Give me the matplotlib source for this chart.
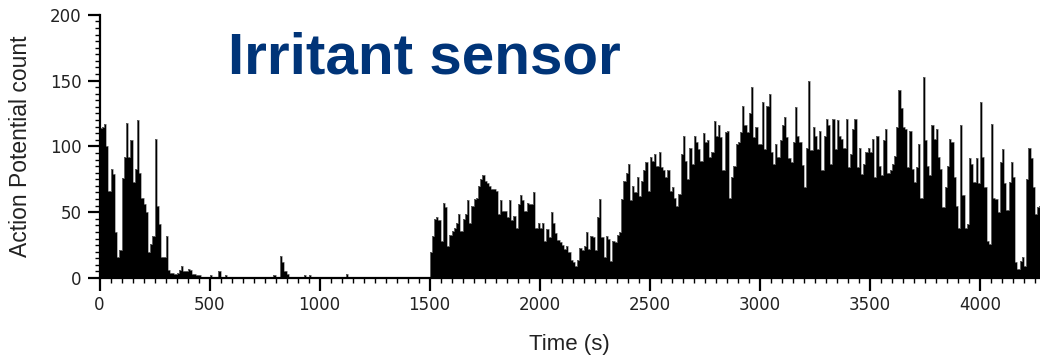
import numpy as np
import matplotlib.pyplot as plt
from matplotlib.ticker import MultipleLocator

# spike counts per 10 s bin
bin_width = 10
counts_0000 = [114, 115, 117, 100, 66, 83, 79, 35, 16, 21,
               76, 92, 118, 92, 105, 73, 83, 120, 80, 61,
               56, 50, 20, 26, 32, 106, 55, 41, 16, 16,
               32, 6, 4, 4, 3, 4, 6, 9, 5, 5,
               7, 6, 3, 3, 2, 2]
counts_0460 = [0, 1, 0, 0, 2, 0, 0, 1, 5, 1,
               0, 2, 1, 0, 0, 1, 0, 0, 0, 1,
               0, 1, 1, 0, 0, 1, 0, 0, 0, 0,
               0, 0, 0, 2, 1, 1, 17, 12, 5, 3,
               1, 1, 1, 1, 1, 0, 0, 2, 1, 2,
               0, 0, 0, 0, 1, 0, 0, 0, 1, 1,
               0, 0, 0, 0, 0, 0, 3, 0, 0, 0,
               0, 1, 0, 0, 0, 0, 0, 1, 0, 1,
               0, 0, 0, 0, 0, 0, 0, 0, 0, 1,
               0, 1, 0, 0, 0, 0, 1, 0, 0, 0,
               0, 0, 0, 0]
counts_1500 = [20, 32, 45, 46, 44, 28, 57, 54, 24, 33,
               36, 38, 42, 49, 36, 45, 49, 59, 42, 55,
               60, 61, 70, 75, 78, 74, 72, 70, 68, 68,
               66, 49, 59, 51, 51, 46, 59, 44, 47, 38,
               56, 63, 59, 51, 57, 56, 56, 65, 38, 42]
counts_2000 = [38, 42, 28, 37, 31, 50, 42, 34, 29, 27,
               25, 22, 24, 20, 14, 12, 9, 14, 23, 21,
               24, 35, 22, 32, 31, 21, 46, 60, 31, 16,
               32, 30, 13, 28, 27, 33, 35, 60, 74, 80,
               87, 59, 70, 65, 77, 62, 74, 82, 88, 66]
counts_2500 = [92, 89, 94, 85, 96, 84, 82, 77, 82, 66,
               69, 61, 55, 64, 94, 108, 89, 75, 99, 87,
               108, 103, 98, 89, 110, 103, 105, 92, 96, 119,
               108, 116, 107, 82, 111, 112, 61, 77, 85, 102,
               103, 111, 131, 116, 111, 125, 145, 107, 115, 102]
counts_3000 = [102, 134, 98, 131, 140, 96, 87, 102, 92, 105,
               116, 122, 107, 91, 88, 103, 130, 108, 103, 86,
               69, 99, 150, 97, 115, 108, 98, 112, 82, 108,
               121, 116, 87, 121, 98, 120, 108, 106, 99, 121,
               84, 94, 113, 121, 84, 99, 79, 87, 96, 99]
counts_3500 = [96, 106, 77, 108, 85, 78, 105, 113, 80, 82,
               87, 93, 115, 143, 129, 115, 113, 84, 112, 83,
               73, 84, 102, 61, 153, 105, 85, 78, 116, 106,
               113, 92, 83, 54, 69, 85, 106, 103, 77, 55,
               38, 116, 63, 38, 41, 91, 87, 73, 91, 72]
counts_4000 = [134, 92, 69, 28, 26, 117, 61, 60, 50, 88,
               98, 72, 52, 73, 88, 77, 12, 7, 13, 16,
               9, 75, 99, 91, 69, 49, 54, 55]

counts = np.array(counts_0000 + counts_0460 + counts_1500 + counts_2000
                  + counts_2500 + counts_3000 + counts_3500 + counts_4000)
edges = np.arange(len(counts) + 1) * bin_width

plt.rcParams['font.family'] = ['Liberation Sans', 'DejaVu Sans']

fig = plt.figure(figsize=(10.4, 3.59), dpi=100)
ax = fig.add_axes([0.0957, 0.2256, 0.9043, 0.7332])

# filled histogram + faint grey outline (the reference has soft edges on spikes)
ax.stairs(counts, edges, fill=True, color='black', linewidth=0)
ax.stairs(counts, edges, fill=False, color='#8a8a8a', linewidth=0.5)

ax.set_xlim(0, 4273)
ax.set_ylim(0, 200)
ax.xaxis.set_major_locator(MultipleLocator(500))
ax.xaxis.set_minor_locator(MultipleLocator(50))
ax.yaxis.set_major_locator(MultipleLocator(50))
ax.yaxis.set_minor_locator(MultipleLocator(5))

for s in ['top', 'right']:
    ax.spines[s].set_visible(False)
for s in ['left', 'bottom']:
    ax.spines[s].set_linewidth(1.6)

ax.tick_params(which='major', direction='out', length=9, width=1.6,
               labelsize=12, labelcolor='#222222', pad=4)
ax.tick_params(which='minor', direction='out', length=3.5, width=1.0)
for lab in ax.get_xticklabels() + ax.get_yticklabels():
    lab.set_family('DejaVu Sans')

ax.set_xlabel('Time (s)', fontsize=16, color='#222222', labelpad=14)
ax.set_ylabel('Action Potential count', fontsize=16.5, color='#222222', labelpad=13)

fig.text(228 / 1040, 1 - 73.5 / 359, 'Irritant sensor', fontsize=42,
         fontweight='bold', color='#003478', va='baseline', ha='left')

fig.savefig('out.png', dpi=100)
